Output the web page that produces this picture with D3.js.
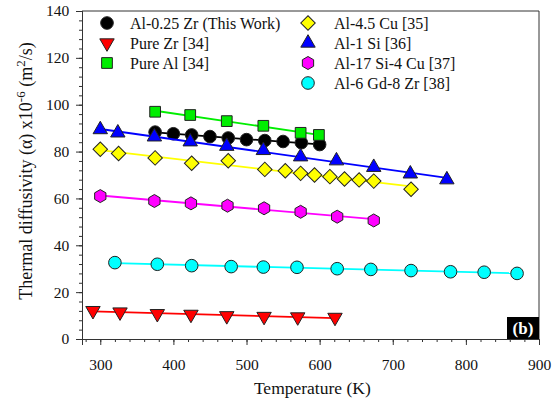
<!DOCTYPE html>
<html>
<head>
<meta charset="utf-8">
<script src="https://cdn.jsdelivr.net/npm/d3@7"></script>
<style>
  body { margin: 0; background: #fff; }
</style>
</head>
<body>
<svg id="chart" width="559" height="404"></svg>
<script>
// series data
const zrThisWorkT = [375, 400, 425, 450, 475, 500, 525, 550, 575, 600];
const zrThisWorkA = [88.3, 87.6, 87.1, 86.4, 85.8, 85.1, 84.7, 84.3, 83.8, 83.0];

const pureZrT = [290, 327, 378, 424, 473, 524, 570, 621];
const pureZrA = [12.1, 11.5, 10.8, 10.5, 9.9, 9.6, 9.4, 9.2];

const pureAlT = [375, 423, 473, 523, 574, 599];
const pureAlA = [97.0, 95.6, 93.0, 91.0, 88.0, 87.1];

const cuT = [300, 325, 375, 425, 475, 525, 553, 574, 593, 614, 634, 654, 674, 725];
const cuA = [81.0, 79.2, 77.3, 75.0, 76.1, 72.4, 71.8, 70.7, 70.0, 69.3, 68.3, 67.9, 67.4, 63.9];

const siT = [300, 324, 374, 423, 473, 523, 574, 623, 674, 724, 774];
const siA = [89.4, 88.0, 86.3, 84.2, 82.3, 80.5, 77.8, 76.1, 73.3, 70.5, 68.0];

const siCuT = [300, 374, 424, 474, 524, 574, 624, 674];
const siCuA = [61.0, 58.9, 57.9, 56.9, 55.8, 54.3, 52.2, 50.6];

const gdT = [320, 378, 425, 479, 523, 569, 624, 670, 725, 779, 825, 870];
const gdA = [32.6, 31.9, 31.3, 30.9, 30.7, 30.6, 30.0, 29.7, 29.2, 28.7, 28.5, 28.0];

const xTicks = [300, 400, 500, 600, 700, 800, 900];
const yTicks = [0, 20, 40, 60, 80, 100, 120, 140];

const series = [
  { name: 'Al-0.25 Zr (This Work)', t: zrThisWorkT, a: zrThisWorkA, line: '#000000', fill: '#000000', shape: 'circle', col: 0, row: 0 },
  { name: 'Pure Zr [34]', t: pureZrT, a: pureZrA, line: '#ff0000', fill: '#ff0000', shape: 'tridown', col: 0, row: 1 },
  { name: 'Pure Al [34]', t: pureAlT, a: pureAlA, line: '#00ee00', fill: '#00ee00', shape: 'square', col: 0, row: 2 },
  { name: 'Al-4.5 Cu [35]', t: cuT, a: cuA, line: '#ffff00', fill: '#ffff00', shape: 'diamond', col: 1, row: 0 },
  { name: 'Al-1 Si [36]', t: siT, a: siA, line: '#0000ff', fill: '#0000ff', shape: 'triup', col: 1, row: 1 },
  { name: 'Al-17 Si-4 Cu [37]', t: siCuT, a: siCuA, line: '#ff00ff', fill: '#ff00ff', shape: 'hexagon', col: 1, row: 2 },
  { name: 'Al-6 Gd-8 Zr [38]', t: gdT, a: gdA, line: '#00ffff', fill: '#00ffff', shape: 'circle', col: 1, row: 3 },
];

const FONT = "'Liberation Serif', serif";

const margin = { top: 11, right: 20, bottom: 65, left: 82 };
const width = 559 - margin.left - margin.right;
const height = 404 - margin.top - margin.bottom;

const svg = d3.select('#chart');
const g = svg.append('g').attr('transform', `translate(${margin.left},${margin.top})`);

const x = d3.scaleLinear().domain([275, 900]).range([0, width]);
const y = d3.scaleLinear().domain([0, 140]).range([height, 0]);

// marker shapes
function markerPath(shape) {
  if (shape === 'circle') return d3.symbol(d3.symbolCircle, 125)();
  if (shape === 'square') return d3.symbol(d3.symbolSquare, 115)();
  if (shape === 'triup') return d3.symbol(d3.symbolTriangle, 90)();
  if (shape === 'tridown') return d3.symbol(d3.symbolTriangle, 90)();
  if (shape === 'diamond') return d3.symbol(d3.symbolSquare, 105)();
  if (shape === 'hexagon') {
    const r = 6.5;
    const pts = d3.range(6).map(i => {
      const ang = Math.PI / 3 * i - Math.PI / 2;
      return [r * Math.cos(ang), r * Math.sin(ang)];
    });
    return d3.line()(pts) + 'Z';
  }
}
function markerRotate(shape) {
  if (shape === 'tridown') return 180;
  if (shape === 'diamond') return 45;
  return 0;
}

// axes
const xAxis = g.append('g').attr('transform', `translate(0,${height})`);
xAxis.call(d3.axisBottom(x).tickValues(d3.range(280, 901, 20)).tickSize(3).tickFormat(''));
xAxis.append('g').call(d3.axisBottom(x).tickValues(xTicks).tickSize(6).tickFormat(d3.format('d')));
const yAxis = g.append('g');
yAxis.call(d3.axisLeft(y).tickValues(d3.range(0, 141, 4)).tickSize(3).tickFormat(''));
yAxis.append('g').call(d3.axisLeft(y).tickValues(yTicks).tickSize(6).tickFormat(d3.format('d')));

svg.selectAll('g').attr('font-family', FONT);
svg.selectAll('.domain').attr('stroke', '#333');
svg.selectAll('.tick line').attr('stroke', '#333');
svg.selectAll('.tick text')
  .attr('fill', '#111')
  .attr('font-size', 15.5);
xAxis.selectAll('.tick text').attr('dy', '1.45em');
yAxis.selectAll('.tick text').attr('dx', '-0.25em');

// frame top and right
g.append('line').attr('x1', 0).attr('x2', width).attr('y1', 0).attr('y2', 0).attr('stroke', '#333');
g.append('line').attr('x1', width).attr('x2', width).attr('y1', 0).attr('y2', height).attr('stroke', '#333');

// fitted lines and markers
series.forEach(s => {
  const pts = s.t.map((t, i) => [t, s.a[i]]);
  const mx = d3.mean(s.t), my = d3.mean(s.a);
  const slope = d3.sum(pts, p => (p[0] - mx) * (p[1] - my)) / d3.sum(pts, p => (p[0] - mx) ** 2);
  const fit = t => my + slope * (t - mx);
  const ends = d3.extent(s.t);
  g.append('path')
    .datum(ends)
    .attr('fill', 'none')
    .attr('stroke', s.line)
    .attr('stroke-width', 1.8)
    .attr('d', d3.line().x(d => x(d)).y(d => y(fit(d))));

  g.append('g').selectAll('path')
    .data(pts)
    .join('path')
    .attr('d', markerPath(s.shape))
    .attr('transform', d => `translate(${x(d[0])},${y(d[1])}) rotate(${markerRotate(s.shape)})`)
    .attr('fill', s.fill)
    .attr('stroke', '#222')
    .attr('stroke-width', 1);
});

// legend
const legend = g.append('g');
const colX = [25, 226];
const textGap = [23, 26];
series.forEach(s => {
  const lx = colX[s.col];
  const ly = 12 + s.row * 20;
  legend.append('path')
    .attr('d', markerPath(s.shape))
    .attr('transform', `translate(${lx},${ly}) rotate(${markerRotate(s.shape)})`)
    .attr('fill', s.fill)
    .attr('stroke', '#222')
    .attr('stroke-width', 1);
  legend.append('text')
    .attr('x', lx + textGap[s.col])
    .attr('y', ly)
    .attr('dy', '0.35em')
    .attr('font-family', FONT)
    .attr('font-size', 16)
    .attr('fill', '#111')
    .text(s.name);
});

// (b) label
g.append('rect')
  .attr('x', width - 32).attr('y', height - 22)
  .attr('width', 32).attr('height', 22)
  .attr('fill', '#000');
g.append('text')
  .attr('x', width - 16).attr('y', height - 11)
  .attr('dy', '0.35em')
  .attr('text-anchor', 'middle')
  .attr('fill', '#fff')
  .attr('font-family', FONT)
  .attr('font-size', 17)
  .attr('font-weight', 'bold')
  .text('(b)');

// axis titles
svg.append('text')
  .attr('x', margin.left + x(590))
  .attr('y', 394)
  .attr('text-anchor', 'middle')
  .attr('font-family', FONT)
  .attr('font-size', 17.5)
  .attr('fill', '#111')
  .text('Temperature (K)');

const yt = svg.append('text')
  .attr('transform', `translate(32,${margin.top + height / 2 - 4}) rotate(-90)`)
  .attr('text-anchor', 'middle')
  .attr('font-family', FONT)
  .attr('font-size', 18)
  .attr('fill', '#111');
yt.append('tspan').text('Thermal diffusivity (α) x10');
yt.append('tspan').attr('dy', -7).attr('font-size', 13).text('-6');
yt.append('tspan').attr('dy', 7).text(' (m');
yt.append('tspan').attr('dy', -7).attr('font-size', 13).text('2');
yt.append('tspan').attr('dy', 7).text('/s)');
</script>
</body>
</html>
